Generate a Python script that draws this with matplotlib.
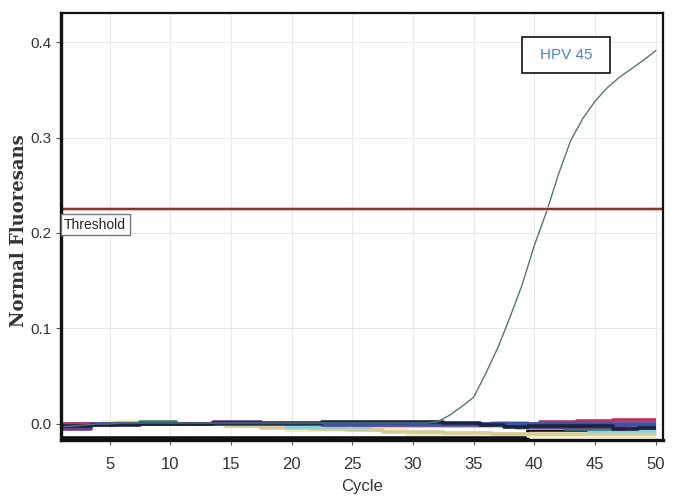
import matplotlib
matplotlib.use("Agg")
import matplotlib.pyplot as plt
from matplotlib.patches import Rectangle
import numpy as np

# qPCR amplification data (cycles 1..50)
cycles = np.arange(1, 51)

hpv45 = [-0.003, -0.002, -0.001, 0.000, 0.000, 0.001, 0.001, 0.001, 0.001, 0.001,
         0.001, 0.001, 0.001, 0.001, 0.001, 0.001, 0.001, 0.001, 0.001, 0.001,
         0.001, 0.001, 0.001, 0.001, 0.001, 0.001, 0.001, 0.001, 0.001, 0.001,
         0.001, 0.002, 0.009, 0.018, 0.028, 0.053, 0.080, 0.112, 0.146, 0.187,
         0.222, 0.262, 0.297, 0.320, 0.338, 0.352, 0.363, 0.372, 0.381, 0.391]

neg_black = [-0.0145, -0.0145, -0.0145, -0.0145, -0.0145, -0.0145, -0.0145, -0.0145, -0.0145, -0.0145,
             -0.0145, -0.0145, -0.0145, -0.0145, -0.0145, -0.0145, -0.0145, -0.0145, -0.0145, -0.0145,
             -0.0145, -0.0145, -0.0145, -0.0145, -0.0145, -0.0145, -0.0145, -0.0145, -0.0145, -0.0145,
             -0.0145, -0.0145, -0.0145, -0.0145, -0.0145, -0.0145, -0.0145, -0.0145, -0.0145, -0.006,
             -0.006, -0.006, -0.006, -0.006, -0.006, -0.006, -0.006, -0.006, -0.006, -0.006]

neg_yellow = [0.000, 0.000, 0.000, 0.000, 0.002, 0.002, 0.002, 0.001, 0.001, 0.001,
              0.001, 0.001, 0.001, 0.001, -0.002, -0.002, -0.002, -0.002, -0.002, -0.006,
              -0.006, -0.006, -0.006, -0.006, -0.006, -0.006, -0.006, -0.006, -0.006, -0.010,
              -0.010, -0.010, -0.010, -0.010, -0.010, -0.010, -0.010, -0.010, -0.010, -0.013,
              -0.013, -0.013, -0.013, -0.013, -0.013, -0.013, -0.013, -0.013, -0.013, -0.013]

neg_tan = [0.000, 0.000, 0.000, 0.000, 0.000, 0.000, 0.000, 0.000, 0.000, 0.000,
           0.000, 0.000, 0.000, 0.000, -0.002, -0.002, -0.002, -0.004, -0.004, -0.004,
           -0.004, -0.005, -0.005, -0.005, -0.006, -0.006, -0.006, -0.008, -0.008, -0.008,
           -0.008, -0.008, -0.009, -0.009, -0.009, -0.009, -0.011, -0.011, -0.011, -0.011,
           -0.011, -0.011, -0.011, -0.011, -0.011, -0.011, -0.011, -0.011, -0.011, -0.011]

neg_cyan = [-0.001, -0.001, -0.001, -0.001, -0.001, 0.001, 0.001, 0.001, 0.000, 0.000,
            0.000, 0.000, 0.000, 0.000, 0.000, 0.000, 0.000, 0.000, 0.000, -0.003,
            -0.003, -0.003, -0.003, -0.003, -0.003, -0.003, -0.002, -0.002, -0.002, -0.002,
            -0.002, -0.002, -0.002, -0.002, -0.002, -0.002, -0.002, -0.002, -0.004, -0.004,
            -0.004, -0.004, -0.004, -0.004, -0.007, -0.007, -0.007, -0.007, -0.007, -0.007]

neg_teal = [0.000, 0.000, 0.000, 0.000, 0.000, 0.000, 0.000, 0.002, 0.002, 0.002,
            0.000, 0.000, 0.000, 0.000, 0.000, 0.000, 0.000, 0.000, 0.000, 0.000,
            0.000, 0.000, 0.000, 0.000, 0.000, 0.000, 0.000, 0.000, 0.000, 0.000,
            0.000, 0.000, 0.000, 0.000, 0.000, 0.000, 0.000, 0.000, -0.003, -0.003,
            -0.003, -0.003, -0.005, -0.005, -0.005, -0.005, -0.005, -0.004, -0.004, -0.004]

neg_pink = [0.000, 0.000, 0.000, 0.000, 0.000, 0.000, 0.000, 0.000, 0.000, 0.000,
            0.000, 0.000, 0.000, 0.000, 0.000, 0.000, 0.000, 0.000, 0.000, 0.000,
            0.000, 0.000, 0.000, 0.000, 0.000, 0.000, 0.000, 0.000, 0.000, 0.000,
            0.000, 0.000, 0.000, 0.000, 0.000, 0.000, 0.001, 0.001, 0.001, 0.000,
            0.000, 0.000, 0.000, 0.000, 0.000, 0.002, 0.002, 0.002, 0.002, 0.002]

neg_magenta = [0.000, 0.000, 0.000, 0.000, 0.000, 0.000, 0.000, 0.000, 0.000, 0.000,
               0.000, 0.000, 0.000, 0.000, 0.000, 0.000, 0.000, 0.000, 0.000, 0.000,
               0.000, 0.000, 0.000, 0.000, 0.000, 0.000, 0.000, 0.000, 0.000, 0.000,
               0.000, 0.000, 0.000, 0.000, 0.000, 0.000, 0.000, 0.000, 0.000, 0.000,
               0.002, 0.002, 0.002, 0.003, 0.003, 0.003, 0.004, 0.004, 0.004, 0.004]

neg_purple = [-0.005, -0.005, -0.005, -0.001, -0.001, 0.000, 0.000, 0.000, 0.000, 0.000,
              0.000, 0.000, 0.000, 0.002, 0.002, 0.002, 0.002, 0.000, 0.000, 0.000,
              0.000, 0.000, -0.001, -0.001, -0.001, -0.001, -0.001, -0.001, -0.001, -0.001,
              -0.001, -0.001, -0.001, -0.001, -0.001, -0.001, 0.000, 0.000, 0.000, -0.003,
              -0.003, -0.003, -0.003, -0.003, -0.003, -0.003, -0.003, -0.001, -0.001, -0.001]

neg_blue = [-0.002, -0.002, -0.002, 0.000, 0.000, 0.000, 0.000, 0.000, 0.000, 0.000,
            0.000, 0.000, 0.000, 0.000, 0.000, 0.000, 0.000, 0.000, 0.000, 0.000,
            0.000, 0.000, 0.000, 0.000, 0.000, 0.000, 0.000, 0.000, 0.000, 0.000,
            0.000, 0.000, 0.000, 0.000, 0.000, 0.000, 0.000, 0.000, 0.000, 0.000,
            0.000, 0.000, 0.000, 0.000, 0.000, 0.000, 0.000, 0.000, 0.000, 0.000]

neg_navy = [-0.002, -0.002, -0.002, -0.001, -0.001, -0.001, -0.001, 0.000, 0.000, 0.000,
            0.000, 0.000, 0.000, 0.001, 0.001, 0.001, 0.001, 0.001, 0.001, 0.001,
            0.001, 0.001, 0.002, 0.002, 0.002, 0.002, 0.002, 0.002, 0.002, 0.002,
            0.002, 0.002, 0.001, 0.001, 0.001, -0.001, -0.001, -0.003, -0.003, -0.002,
            -0.002, -0.002, -0.002, -0.002, -0.002, -0.002, -0.005, -0.005, -0.004, -0.004]

threshold = 0.225

fig = plt.figure(figsize=(6.75, 4.98), dpi=100)
ax = fig.add_axes([61 / 675, 1 - 440 / 498, 602 / 675, 427 / 498])

ax.grid(True, color="#e8e8e8", linewidth=0.8)
ax.set_axisbelow(True)

# negative / baseline traces, drawn as steps
baselines = [
    (neg_black, "#111111"),
    (neg_yellow, "#f1ecbd"),
    (neg_tan, "#d6cc98"),
    (neg_cyan, "#86d0da"),
    (neg_teal, "#2f8070"),
    (neg_pink, "#d77ab8"),
    (neg_magenta, "#c0305f"),
    (neg_purple, "#6b3c90"),
    (neg_blue, "#3557a8"),
    (neg_navy, "#1c2340"),
]
for vals, col in baselines:
    ax.plot(cycles, vals, drawstyle="steps-mid", color=col, linewidth=2.6,
            solid_capstyle="butt")

ax.plot(cycles, hpv45, color="#557676", linewidth=1.0)

# threshold line
ax.axhline(threshold, color="#e3b0b0", linewidth=2.6)
ax.axhline(threshold, color="#8a2f2f", linewidth=1.4)
ax.text(1.25, 0.2085, "Threshold", ha="left", va="center", fontsize=10,
        family=["Liberation Sans Narrow", "Liberation Sans"], color="#222222",
        bbox=dict(boxstyle="square,pad=0.25", facecolor="white",
                  edgecolor="#777777", linewidth=1))

# label box for the positive sample
ax.add_patch(Rectangle((0.766, 0.859), 0.146, 0.084, transform=ax.transAxes,
                       facecolor="white", edgecolor="#111111", linewidth=1.2,
                       zorder=5))
ax.text(0.839, 0.901, "HPV 45", transform=ax.transAxes, ha="center",
        va="center", fontsize=11, family="Liberation Sans", color="#4a86c6",
        zorder=6)

ax.set_xlim(1, 50.6)
ax.set_ylim(-0.0168, 0.4304)
ax.set_xticks(np.arange(5, 51, 5))
ax.set_yticks([0.0, 0.1, 0.2, 0.3, 0.4])
ax.set_yticklabels(["0.0", "0.1", "0.2", "0.3", "0.4"])

ax.tick_params(axis="both", length=3.5, width=0.8, color="#555555",
               labelcolor="#333333", labelsize=10.5)
ax.tick_params(axis="x", pad=9)
for lab in ax.get_xticklabels():
    lab.set_family(["Liberation Sans Narrow", "Liberation Sans"])
    lab.set_fontsize(12)
for lab in ax.get_yticklabels():
    lab.set_family("Liberation Sans")
    lab.set_fontsize(11)

for side in ["left", "bottom"]:
    ax.spines[side].set_linewidth(2.4)
for side in ["top", "right"]:
    ax.spines[side].set_linewidth(1.6)
for s in ax.spines.values():
    s.set_color("#111111")

ax.set_ylabel("Normal Fluoresans", fontsize=13, fontweight="bold",
              family="DejaVu Serif", color="#333333")
ax.yaxis.set_label_coords(-0.055, 0.49)
ax.set_xlabel("Cycle", fontsize=12, color="#333333",
              family=["Liberation Sans Narrow", "Liberation Sans"])
ax.xaxis.set_label_coords(0.5, -0.092)

fig.savefig("out.png", dpi=100)
